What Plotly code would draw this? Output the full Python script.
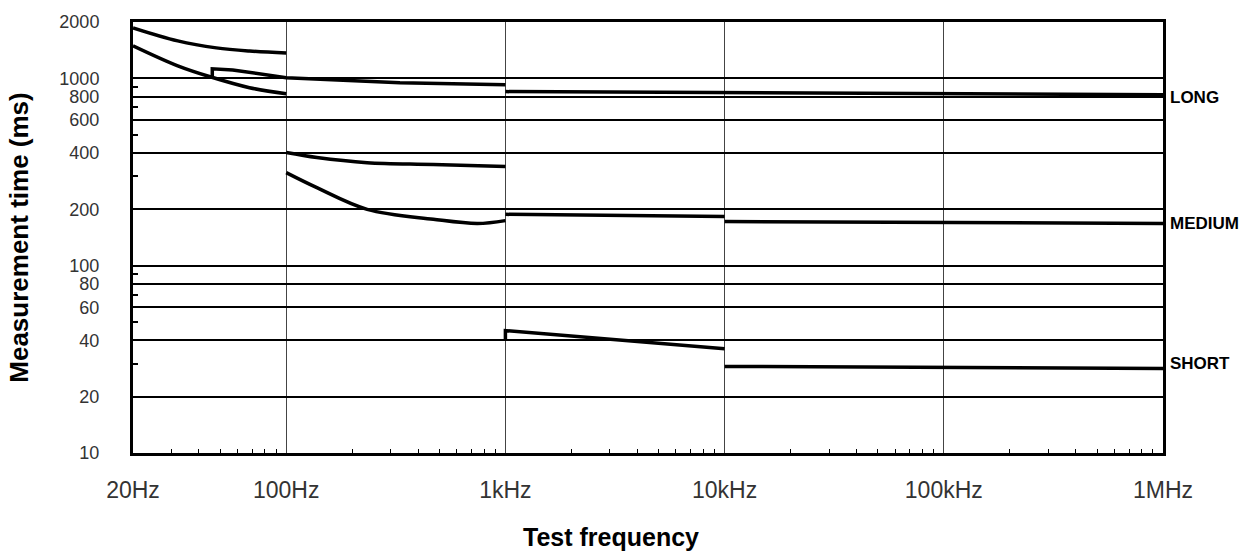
import math
import plotly.graph_objects as go

# Measurement time vs. test frequency for the three integration-time settings.
# Each segment is a separate run of the curve (frequency in Hz, time in ms).

# LONG
long_a_f = [20, 32, 48, 68, 100]
long_a_t = [1860, 1585, 1455, 1400, 1368]
long_b_f = [20, 32, 45, 68, 100]
long_b_t = [1493, 1167, 1020, 892, 828]
long_c_f = [46, 46, 57, 100, 330, 1000]
long_c_t = [1015, 1125, 1110, 1007, 948, 925]
long_d_f = [1000, 1000000]
long_d_t = [850, 818]

# MEDIUM
med_a_f = [100, 138, 234, 469, 1000]
med_a_t = [402, 378, 355, 347, 338]
med_b_f = [100, 138, 234, 469, 745, 1000]
med_b_t = [314, 261, 200, 177, 168, 174]
med_c_f = [1000, 10000]
med_c_t = [188, 183]
med_d_f = [10000, 1000000]
med_d_t = [172, 168]

# SHORT
short_a_f = [1000, 1000, 10000]
short_a_t = [40, 45, 36]
short_b_f = [10000, 1000000]
short_b_t = [29, 28.3]

# Axis ticks
x_tickvals = [20, 100, 1000, 10000, 100000, 1000000]
x_ticktext = ["20Hz", "100Hz", "1kHz", "10kHz", "100kHz", "1MHz"]
y_tickvals = [10, 20, 40, 60, 80, 100, 200, 400, 600, 800, 1000, 2000]
y_ticktext = [str(v) for v in y_tickvals]
y_minor = [30, 50, 70, 90, 300, 500, 700, 900]
x_minor = [m * 10 ** d for d in range(1, 6) for m in range(2, 10) if 20 < m * 10 ** d < 1000000]

# Setting labels on the right edge
setting_names = ["LONG", "MEDIUM", "SHORT"]
setting_label_t = [790, 168, 30]

segments = [
    (long_a_f, long_a_t, "spline"),
    (long_b_f, long_b_t, "spline"),
    (long_c_f, long_c_t, "linear"),
    (long_d_f, long_d_t, "linear"),
    (med_a_f, med_a_t, "spline"),
    (med_b_f, med_b_t, "spline"),
    (med_c_f, med_c_t, "linear"),
    (med_d_f, med_d_t, "linear"),
    (short_a_f, short_a_t, "linear"),
    (short_b_f, short_b_t, "linear"),
]

fig = go.Figure()
for f, t, shape in segments:
    fig.add_trace(go.Scatter(
        x=f, y=t, mode="lines",
        line=dict(color="black", width=3.5, shape=shape),
        showlegend=False, hoverinfo="skip",
    ))

for name, t in zip(setting_names, setting_label_t):
    fig.add_annotation(
        x=1, xref="paper", y=math.log10(t), yref="y",
        text=f"<b>{name}</b>", showarrow=False,
        xanchor="left", yanchor="middle", xshift=5,
        font=dict(family="Liberation Sans", size=17, color="black"),
    )

fig.add_annotation(
    x=0.464, xref="paper", y=0, yref="paper",
    text="<b>Test frequency</b>", showarrow=False,
    xanchor="center", yanchor="middle", yshift=-84,
    font=dict(family="Liberation Sans", size=25, color="black"),
)

x_tick_font = dict(family="Liberation Sans", size=23, color="#333")
y_tick_font = dict(family="Liberation Sans", size=18, color="#333")

fig.update_layout(
    width=1259, height=554,
    margin=dict(l=133, r=96, t=20, b=101),
    paper_bgcolor="white", plot_bgcolor="white",
    xaxis=dict(
        type="log", range=[math.log10(20), 6],
        tickmode="array", tickvals=x_tickvals, ticktext=x_ticktext,
        tickfont=x_tick_font, ticks="", ticklabelstandoff=14,
        showgrid=True, gridcolor="#444", gridwidth=1,
        showline=True, linecolor="black", linewidth=3, mirror=True,
        minor=dict(tickmode="array", tickvals=x_minor, ticks="inside",
                   ticklen=4, tickwidth=1, tickcolor="black", showgrid=False),
        zeroline=False,
    ),
    yaxis=dict(
        type="log", range=[1, math.log10(2000)],
        tickmode="array", tickvals=y_tickvals, ticktext=y_ticktext,
        tickfont=y_tick_font, ticks="", ticklabelstandoff=27,
        showgrid=True, gridcolor="black", gridwidth=1.5,
        showline=True, linecolor="black", linewidth=3, mirror=True,
        minor=dict(tickmode="array", tickvals=y_minor, ticks="inside",
                   ticklen=5, tickwidth=1.5, tickcolor="black", showgrid=False),
        title=dict(text="<b>Measurement time (ms)</b>", standoff=24,
                   font=dict(family="Liberation Sans", size=26, color="black")),
        zeroline=False,
    ),
)

fig.write_html("out.html")
